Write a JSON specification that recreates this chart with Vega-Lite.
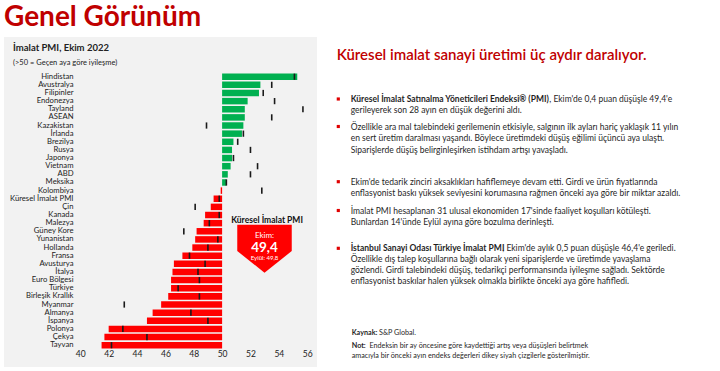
{
  "$schema": "https://vega.github.io/schema/vega-lite/v6.json",
  "background": "white",
  "padding": {"left": 4, "top": 4, "right": 0, "bottom": 0},
  "title": {"text": "Genel Görünüm", "anchor": "start", "frame": "group", "fontSize": 28, "font": "Lato", "fontWeight": "bold", "color": "#c00000", "offset": 5},
  "config": {
    "view": {"stroke": null},
    "font": "Lato",
    "concat": {"spacing": 0},
    "axisX": {"labelOverlap": false, "labelFlush": false, "labelBound": false, "tickCount": 20},
    "locale": {"number": {"decimal": ",", "thousands": ".", "grouping": [3], "currency": ["", " ₺"]}}
  },
  "spacing": 0,
  "hconcat": [
    {
      "width": 313,
      "height": 330,
      "view": {"fill": "#f2f2f2", "stroke": null},
      "title": {"text": "İmalat PMI, Ekim 2022", "subtitle": "(>50 = Geçen aya göre iyileşme)", "anchor": "start", "frame": "group", "dx": 9, "offset": -29, "fontSize": 9.5, "fontWeight": "bold", "color": "#222222", "font": "Lato", "subtitleFont": "Lato", "subtitleFontSize": 7.5, "subtitleColor": "#222222", "subtitlePadding": 6},
      "data": {"values": [
        {"ulke": "Hindistan", "ekim": 55.3, "eylul": 55.1},
        {"ulke": "Avustralya", "ekim": 52.7, "eylul": 53.5},
        {"ulke": "Filipinler", "ekim": 52.6, "eylul": 52.9},
        {"ulke": "Endonezya", "ekim": 51.8, "eylul": 53.7},
        {"ulke": "Tayland", "ekim": 51.6, "eylul": 55.7},
        {"ulke": "ASEAN", "ekim": 51.6, "eylul": 53.5},
        {"ulke": "Kazakistan", "ekim": 51.5, "eylul": 48.9},
        {"ulke": "İrlanda", "ekim": 51.4, "eylul": 51.5},
        {"ulke": "Brezilya", "ekim": 50.8, "eylul": 51.1},
        {"ulke": "Rusya", "ekim": 50.7, "eylul": 52.0},
        {"ulke": "Japonya", "ekim": 50.7, "eylul": 50.8},
        {"ulke": "Vietnam", "ekim": 50.6, "eylul": 52.5},
        {"ulke": "ABD", "ekim": 50.4, "eylul": 52.0},
        {"ulke": "Meksika", "ekim": 50.3, "eylul": 50.3},
        {"ulke": "Kolombiya", "ekim": 49.9, "eylul": 52.8},
        {"ulke": "Küresel İmalat PMI", "ekim": 49.4, "eylul": 49.8},
        {"ulke": "Çin", "ekim": 49.2, "eylul": 48.1},
        {"ulke": "Kanada", "ekim": 48.8, "eylul": 49.8},
        {"ulke": "Malezya", "ekim": 48.7, "eylul": 49.1},
        {"ulke": "Güney Kore", "ekim": 48.2, "eylul": 47.3},
        {"ulke": "Yunanistan", "ekim": 48.1, "eylul": 49.7},
        {"ulke": "Hollanda", "ekim": 47.9, "eylul": 49.0},
        {"ulke": "Fransa", "ekim": 47.2, "eylul": 47.7},
        {"ulke": "Avusturya", "ekim": 46.6, "eylul": 48.8},
        {"ulke": "İtalya", "ekim": 46.5, "eylul": 48.3},
        {"ulke": "Euro Bölgesi", "ekim": 46.4, "eylul": 48.4},
        {"ulke": "Türkiye", "ekim": 46.4, "eylul": 46.9},
        {"ulke": "Birleşik Krallık", "ekim": 46.2, "eylul": 48.4},
        {"ulke": "Myanmar", "ekim": 45.7, "eylul": 43.1},
        {"ulke": "Almanya", "ekim": 45.1, "eylul": 47.8},
        {"ulke": "İspanya", "ekim": 44.7, "eylul": 49.0},
        {"ulke": "Polonya", "ekim": 42.0, "eylul": 43.0},
        {"ulke": "Çekya", "ekim": 41.7, "eylul": 44.7},
        {"ulke": "Tayvan", "ekim": 41.5, "eylul": 42.2}
      ]},
      "encoding": {
        "y": {
          "field": "ulke", "type": "nominal", "sort": null,
          "scale": {"domain": ["Hindistan","Avustralya","Filipinler","Endonezya","Tayland","ASEAN","Kazakistan","İrlanda","Brezilya","Rusya","Japonya","Vietnam","ABD","Meksika","Kolombiya","Küresel İmalat PMI","Çin","Kanada","Malezya","Güney Kore","Yunanistan","Hollanda","Fransa","Avusturya","İtalya","Euro Bölgesi","Türkiye","Birleşik Krallık","Myanmar","Almanya","İspanya","Polonya","Çekya","Tayvan"], "range": [36.45, 311.45], "paddingInner": 0.2, "paddingOuter": 0, "round": false},
          "axis": {"title": null, "domain": false, "ticks": false, "tickSize": 0, "labelPadding": 0, "offset": -69, "labelFont": "Lato", "labelFontSize": 7.7, "labelColor": "#222222"}
        }
      },
      "layer": [
        {
          "mark": {"type": "bar", "orient": "horizontal"},
          "encoding": {
            "x": {"field": "ekim", "type": "quantitative",
              "scale": {"domain": [34.619, 56.692], "nice": false, "zero": false},
              "axis": {"title": null, "domain": false, "ticks": false, "tickSize": 0, "grid": false, "values": [40, 42, 44, 46, 48, 50, 52, 54, 56], "tickCount": 20, "labelPadding": 0, "offset": -18, "labelFont": "Lato", "labelFontSize": 8.5, "labelColor": "#222222", "labelFlush": false, "labelOverlap": false, "labelBound": false}},
            "x2": {"datum": 50},
            "color": {"condition": {"test": "datum.ekim >= 50", "value": "#00b050"}, "value": "#ff0000"}
          }
        },
        {
          "mark": {"type": "tick", "color": "#1a1a1a", "thickness": 1.6, "size": 6.2, "opacity": 1},
          "encoding": {"x": {"field": "eylul", "type": "quantitative",
              "axis": {"title": null, "domain": false, "ticks": false, "tickSize": 0, "grid": false, "values": [40, 42, 44, 46, 48, 50, 52, 54, 56], "tickCount": 20, "labelPadding": 0, "offset": -18, "labelFont": "Lato", "labelFontSize": 8.5, "labelColor": "#222222", "labelFlush": false, "labelOverlap": false, "labelBound": false}}}
        },
        {
          "data": {"values": [{"ad": "Küresel İmalat PMI", "ekim": 49.4, "eylul": 49.8}]},
          "layer": [
            {
              "mark": {"type": "text", "fontWeight": "bold", "fontSize": 8.5, "color": "#111111", "dy": -3.5, "baseline": "middle"},
              "encoding": {"x": {"datum": 53.17}, "y": {"datum": "Malezya"}, "text": {"field": "ad"}}
            },
            {
              "mark": {"type": "point", "shape": "M-1,-0.88L1,-0.88L1,0.085L0,0.88L-1,0.085Z", "size": 2970, "filled": true, "color": "#ff0000", "opacity": 1, "strokeWidth": 0},
              "encoding": {"x": {"datum": 52.99}, "y": {"datum": "Hollanda"}, "yOffset": {"value": 4.4}}
            },
            {
              "mark": {"type": "text", "text": "Ekim:", "color": "white", "fontSize": 8, "dy": -3.4, "baseline": "middle"},
              "encoding": {"x": {"datum": 52.99}, "y": {"datum": "Yunanistan"}}
            },
            {
              "mark": {"type": "text", "color": "white", "fontSize": 13.5, "fontWeight": "bold", "dy": 0, "baseline": "middle"},
              "encoding": {"x": {"datum": 52.99}, "y": {"datum": "Hollanda"}, "text": {"field": "ekim", "type": "quantitative", "format": ".1f"}}
            },
            {
              "mark": {"type": "text", "text": "Eylül: 49,8", "color": "white", "fontSize": 6, "dy": 2.3, "baseline": "middle"},
              "encoding": {"x": {"datum": 52.99}, "y": {"datum": "Fransa"}}
            }
          ]
        }
      ]
    },
    {
      "width": 403,
      "height": 334,
      "data": {"values": [{}]},
      "layer": [
        {
          "mark": {"type": "text", "text": "Küresel imalat sanayi üretimi üç aydır daralıyor.", "align": "left", "baseline": "middle", "fontSize": 15, "fontWeight": 600, "color": "#c00000"},
          "encoding": {"x": {"datum": 19.7, "scale": {"domain": [0, 403], "nice": false, "zero": false}, "axis": null}, "y": {"datum": 18, "scale": {"domain": [334, 0], "nice": false, "zero": false}, "axis": null}}
        },
        {"mark": {"type": "point", "shape": "square", "size": 10, "filled": true, "color": "#e00000", "opacity": 1}, "encoding": {"x": {"datum": 21.3, "axis": null}, "y": {"datum": 62, "axis": null}}},
        {"mark": {"type": "point", "shape": "square", "size": 10, "filled": true, "color": "#e00000", "opacity": 1}, "encoding": {"x": {"datum": 21.3, "axis": null}, "y": {"datum": 89.5, "axis": null}}},
        {"mark": {"type": "point", "shape": "square", "size": 10, "filled": true, "color": "#e00000", "opacity": 1}, "encoding": {"x": {"datum": 21.3, "axis": null}, "y": {"datum": 144.7, "axis": null}}},
        {"mark": {"type": "point", "shape": "square", "size": 10, "filled": true, "color": "#e00000", "opacity": 1}, "encoding": {"x": {"datum": 21.3, "axis": null}, "y": {"datum": 173.5, "axis": null}}},
        {"mark": {"type": "point", "shape": "square", "size": 10, "filled": true, "color": "#e00000", "opacity": 1}, "encoding": {"x": {"datum": 21.3, "axis": null}, "y": {"datum": 211.3, "axis": null}}},
        {"mark": {"type": "text", "text": "Küresel İmalat Satınalma Yöneticileri Endeksi® (PMI)", "align": "left", "baseline": "middle", "fontSize": 8.5, "fontWeight": "bold", "color": "#1f1f1f"}, "encoding": {"x": {"datum": 33.7, "axis": null}, "y": {"datum": 62, "axis": null}}},
        {"mark": {"type": "text", "text": ", Ekim'de 0,4 puan düşüşle 49,4'e", "align": "left", "baseline": "middle", "fontSize": 8.5, "color": "#1f1f1f"}, "encoding": {"x": {"datum": 232.3, "axis": null}, "y": {"datum": 62, "axis": null}}},
        {"mark": {"type": "text", "text": ["gerileyerek son 28 ayın en düşük değerini aldı."], "align": "left", "baseline": "middle", "fontSize": 8.5, "color": "#1f1f1f"}, "encoding": {"x": {"datum": 33.7, "axis": null}, "y": {"datum": 73, "axis": null}}},
        {"mark": {"type": "text", "text": ["Özellikle ara mal talebindeki gerilemenin etkisiyle, salgının ilk ayları hariç yaklaşık 11 yılın", "en sert üretim daralması yaşandı. Böylece üretimdeki düşüş eğilimi üçüncü aya ulaştı.", "Siparişlerde düşüş belirginleşirken istihdam artışı yavaşladı."], "lineHeight": 11.7, "align": "left", "baseline": "middle", "fontSize": 8.5, "color": "#1f1f1f"}, "encoding": {"x": {"datum": 33.7, "axis": null}, "y": {"datum": 89.5, "axis": null}}},
        {"mark": {"type": "text", "text": ["Ekim'de tedarik zinciri aksaklıkları hafiflemeye devam etti. Girdi ve ürün fiyatlarında", "enflasyonist baskı yüksek seviyesini korumasına rağmen önceki aya göre bir miktar azaldı."], "lineHeight": 11.2, "align": "left", "baseline": "middle", "fontSize": 8.5, "color": "#1f1f1f"}, "encoding": {"x": {"datum": 33.7, "axis": null}, "y": {"datum": 144.7, "axis": null}}},
        {"mark": {"type": "text", "text": ["İmalat PMI hesaplanan 31 ulusal ekonomiden 17'sinde faaliyet koşulları kötüleşti.", "Bunlardan 14'ünde Eylül ayına göre bozulma derinleşti."], "lineHeight": 11.8, "align": "left", "baseline": "middle", "fontSize": 8.5, "color": "#1f1f1f"}, "encoding": {"x": {"datum": 33.7, "axis": null}, "y": {"datum": 173.5, "axis": null}}},
        {"mark": {"type": "text", "text": "İstanbul Sanayi Odası Türkiye İmalat PMI", "align": "left", "baseline": "middle", "fontSize": 8.5, "fontWeight": "bold", "color": "#1f1f1f"}, "encoding": {"x": {"datum": 33.7, "axis": null}, "y": {"datum": 211.3, "axis": null}}},
        {"mark": {"type": "text", "text": ", Ekim'de aylık 0,5 puan düşüşle 46,4'e geriledi.", "align": "left", "baseline": "middle", "fontSize": 8.5, "color": "#1f1f1f"}, "encoding": {"x": {"datum": 185.3, "axis": null}, "y": {"datum": 211.3, "axis": null}}},
        {"mark": {"type": "text", "text": ["Özellikle dış talep koşullarına bağlı olarak yeni siparişlerde ve üretimde yavaşlama", "gözlendi. Girdi talebindeki düşüş, tedarikçi performansında iyileşme sağladı. Sektörde", "enflasyonist baskılar halen yüksek olmakla birlikte önceki aya göre hafifledi."], "lineHeight": 10.8, "align": "left", "baseline": "middle", "fontSize": 8.5, "color": "#1f1f1f"}, "encoding": {"x": {"datum": 33.7, "axis": null}, "y": {"datum": 222.3, "axis": null}}},
        {"mark": {"type": "text", "text": "Kaynak:", "align": "left", "baseline": "middle", "fontSize": 7.2, "fontWeight": "bold", "color": "#1f1f1f"}, "encoding": {"x": {"datum": 34.7, "axis": null}, "y": {"datum": 296.3, "axis": null}}},
        {"mark": {"type": "text", "text": "S&P Global.", "align": "left", "baseline": "middle", "fontSize": 7.2, "color": "#1f1f1f"}, "encoding": {"x": {"datum": 62, "axis": null}, "y": {"datum": 296.3, "axis": null}}},
        {"mark": {"type": "text", "text": "Not:", "align": "left", "baseline": "middle", "fontSize": 7.2, "fontWeight": "bold", "color": "#1f1f1f"}, "encoding": {"x": {"datum": 34.7, "axis": null}, "y": {"datum": 308.7, "axis": null}}},
        {"mark": {"type": "text", "text": "Endeksin bir ay öncesine göre kaydettiği artış veya düşüşleri belirtmek", "align": "left", "baseline": "middle", "fontSize": 7.2, "color": "#1f1f1f"}, "encoding": {"x": {"datum": 52.5, "axis": null}, "y": {"datum": 308.7, "axis": null}}},
        {"mark": {"type": "text", "text": "amacıyla bir önceki ayın endeks değerleri dikey siyah çizgilerle gösterilmiştir.", "align": "left", "baseline": "middle", "fontSize": 7.2, "color": "#1f1f1f"}, "encoding": {"x": {"datum": 34.7, "axis": null}, "y": {"datum": 319, "axis": null}}}
      ]
    }
  ]
}
